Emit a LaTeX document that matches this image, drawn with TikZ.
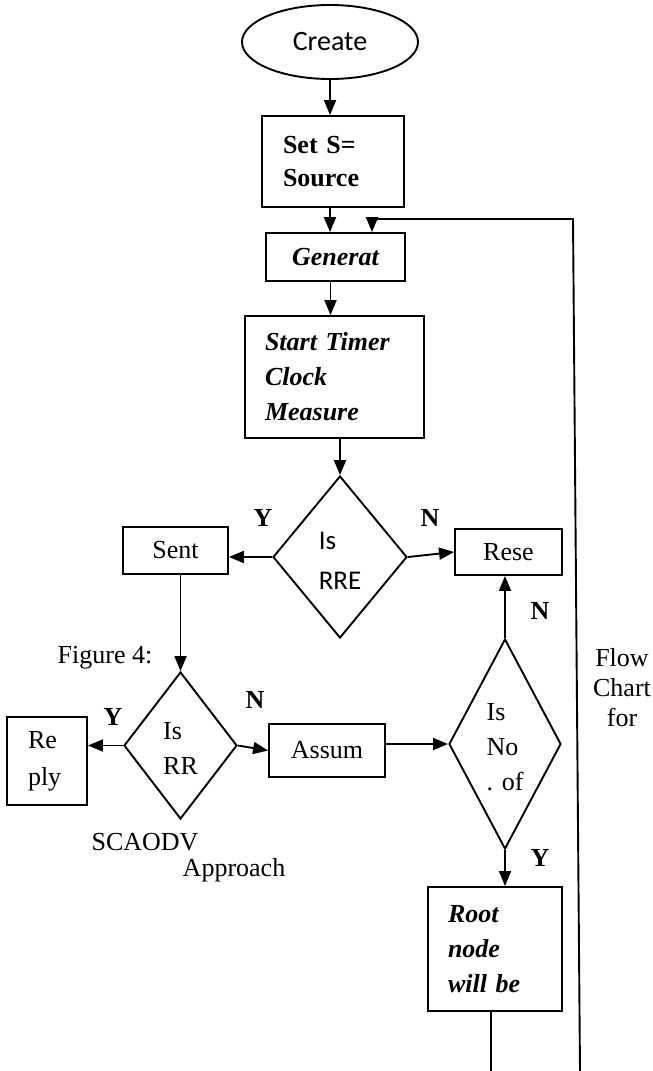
\documentclass[tikz,border=0pt]{standalone}
\usepackage{fontspec}
\setmainfont{Liberation Serif}
\newfontfamily\calibfont{Carlito}
\usetikzlibrary{arrows.meta,shapes.geometric,calc}
\newcommand\dtext[1]{\smash{\raisebox{-11pt}{\makebox[0pt]{\begin{tabular}{@{}l@{}}#1\end{tabular}}}}}
\begin{document}
\begin{tikzpicture}[x=1pt,y=-1pt,
  arr/.style={-{Triangle[length=15pt,width=12pt]}, line width=1.9pt},
  tnr/.style={font=\fontsize{26}{35}\selectfont},
  bi/.style={font=\bfseries\itshape\fontsize{26}{35}\selectfont},
  box/.style={draw, rectangle, inner sep=0pt, line width=1.9pt},
  dia/.style={draw, diamond, inner sep=0pt, line width=1.9pt},
  lab/.style={font=\bfseries\fontsize{26}{26}\selectfont, inner sep=0pt}]
\fill[white] (0,0) rectangle (653,1071);
\useasboundingbox (0,0) rectangle (653,1071);

\node[draw, ellipse, line width=1.9pt, minimum width=176pt, minimum height=74pt, inner sep=0pt,
      font=\calibfont\fontsize{28}{34}\selectfont] (create) at (330,42) {Create};
\node[box, minimum width=142pt, minimum height=91pt, text width=100pt, inner xsep=21pt, align=left,
      font=\bfseries\fontsize{26}{33}\selectfont] (sets) at (333,161.5) {Set S=\\Source};
\node[box, minimum width=139pt, minimum height=48pt, bi] (gen) at (335.5,257) {Generat};
\node[box, minimum width=179pt, minimum height=122pt, text width=139pt, inner xsep=20pt, align=left, bi]
      (start) at (334.5,377) {Start Timer\\Clock\\Measure};
\node[dia, minimum width=134pt, minimum height=162pt, font=\calibfont\fontsize{27}{40}\selectfont]
      (d1) at (340,557) {\dtext{Is\\RRE}};
\node[box, minimum width=105pt, minimum height=47pt, tnr] (sent) at (175.5,550.5) {Sent};
\node[box, minimum width=107pt, minimum height=46pt, tnr] (rese) at (508.5,552) {Rese};
\node[dia, minimum width=113pt, minimum height=147pt, tnr] (d3) at (180.5,745.5) {\dtext{Is\\RR}};
\node[box, minimum width=80pt, minimum height=88pt, text width=38pt, inner xsep=21pt, align=left,
      font=\fontsize{26}{37}\selectfont] (reply) at (47,761) {Re\\ply};
\node[box, minimum width=116pt, minimum height=53pt, tnr] (assum) at (327,750.5) {Assum};
\node[dia, minimum width=112pt, minimum height=210pt, tnr] (d2) at (505,744) {\dtext{Is\\No\\. of}};
\node[box, minimum width=134pt, minimum height=124pt, text width=94pt, inner xsep=20pt, align=left, bi]
      (root) at (495,949) {Root\\node\\will be};

\node[lab] (y1) at (263,518) {Y};
\node[lab] (n1) at (430,518) {N};
\node[lab] (n2) at (540,611) {N};
\node[lab] (y3) at (113,717) {Y};
\node[lab] (n3) at (255,700) {N};
\node[lab] (y2) at (540,858) {Y};
\node[tnr, inner sep=0pt] (fig) at (105,658) {Figure 4:};
\node[tnr, inner sep=0pt] (scaodv) at (145,842) {SCAODV};
\node[tnr, inner sep=0pt] (appr) at (234,870) {Approach};
\node[align=center, inner sep=0pt, font=\fontsize{26}{30}\selectfont] (flow) at (622,688) {Flow\\Chart\\for};

\coordinate (fbbot) at (580,1071);
\coordinate (fbtop) at (573,219);
\coordinate (fbin) at (372,219);
\coordinate (rootend) at (491,1071);

\draw[arr] (create.south) -- (create.south |- sets.north);
\draw[arr] ([xshift=-3pt]sets.south) -- ([xshift=-3pt]sets.south |- gen.north);
\draw[arr] (fbbot) -- (fbtop) -- (fbin) -- (fbin |- gen.north);
\draw[arr] ([xshift=-5pt]gen.south) -- ([xshift=-5pt]gen.south |- start.north);
\draw[arr] (d1.north |- start.south) -- (d1.north);
\draw[arr] (d1.west) -- (d1.west -| sent.east);
\draw[arr] (d1.east) -- (rese.west);
\draw[arr] (d3.north |- sent.south) -- (d3.north);
\draw[arr] (d3.west) -- (d3.west -| reply.east);
\draw[arr] (d3.east) -- (assum.west);
\draw[arr] (assum.east |- d2.west) -- (d2.west);
\draw[arr] (d2.north) -- (d2.north |- rese.south);
\draw[arr] (d2.south) -- (d2.south |- root.north);
\draw[line width=1.9pt] (root.south -| rootend) -- (rootend);
\end{tikzpicture}
\end{document}
